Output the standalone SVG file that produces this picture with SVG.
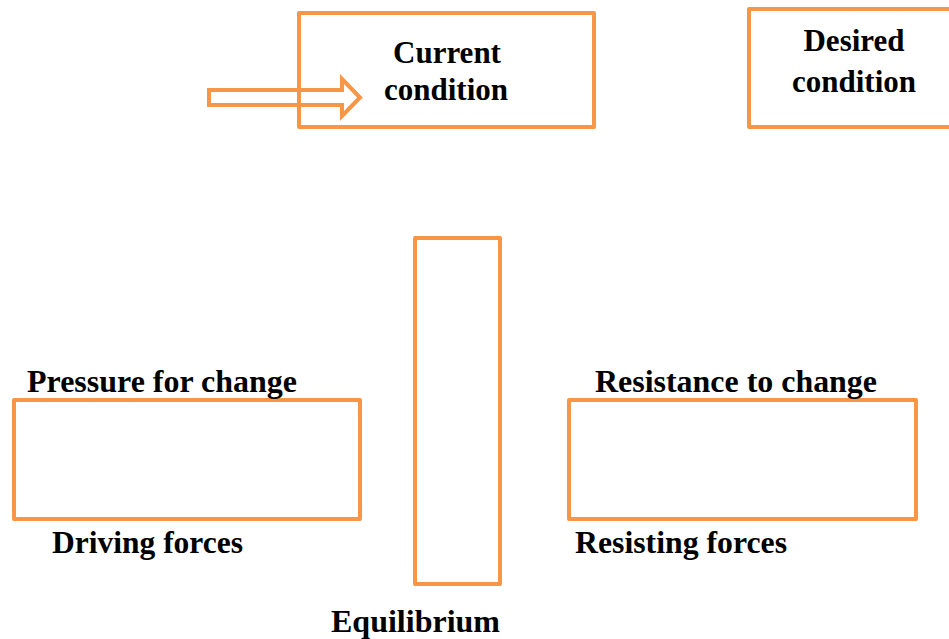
<svg xmlns="http://www.w3.org/2000/svg" width="949" height="639" viewBox="0 0 949 639">
  <style>
    .box { fill: #ffffff; stroke: #f79646; stroke-width: 4; stroke-linejoin: round; }
    .arrow { fill: none; stroke: #f79646; stroke-width: 4; stroke-linejoin: miter; }
    .lbl { font-family: "Liberation Serif", "Times New Roman", serif; font-weight: bold; font-size: 31px; fill: #000000; }
    .mid { text-anchor: middle; }
  </style>
  <rect width="949" height="639" fill="#ffffff"/>

  <g id="current-condition">
    <rect class="box" x="299" y="13" width="295" height="114"/>
    <text class="lbl mid" x="447" y="63">Current</text>
    <text class="lbl mid" x="446" y="100">condition</text>
  </g>

  <g id="desired-condition">
    <rect class="box" x="749" y="9" width="210" height="118"/>
    <text class="lbl mid" x="854" y="51">Desired</text>
    <text class="lbl mid" x="854" y="92">condition</text>
  </g>

  <g id="driving-forces">
    <rect class="box" x="14" y="400" width="346" height="119"/>
    <text class="lbl" x="27" y="392" textLength="270" lengthAdjust="spacingAndGlyphs">Pressure for change</text>
    <text class="lbl" x="52" y="553" textLength="191" lengthAdjust="spacingAndGlyphs">Driving forces</text>
  </g>

  <g id="equilibrium">
    <rect class="box" x="415" y="238" width="85" height="346"/>
    <text class="lbl" x="331" y="632" textLength="169" lengthAdjust="spacingAndGlyphs">Equilibrium</text>
  </g>

  <g id="resisting-forces">
    <rect class="box" x="569" y="400" width="347" height="119"/>
    <text class="lbl" x="595" y="392" textLength="282" lengthAdjust="spacingAndGlyphs">Resistance to change</text>
    <text class="lbl" x="575" y="553" textLength="212" lengthAdjust="spacingAndGlyphs">Resisting forces</text>
  </g>

  <g id="connectors">
    <path class="arrow" d="M209,90 L342,90 L342,79 L360,97.5 L342,116 L342,105 L209,105 Z"/>
  </g>
</svg>
